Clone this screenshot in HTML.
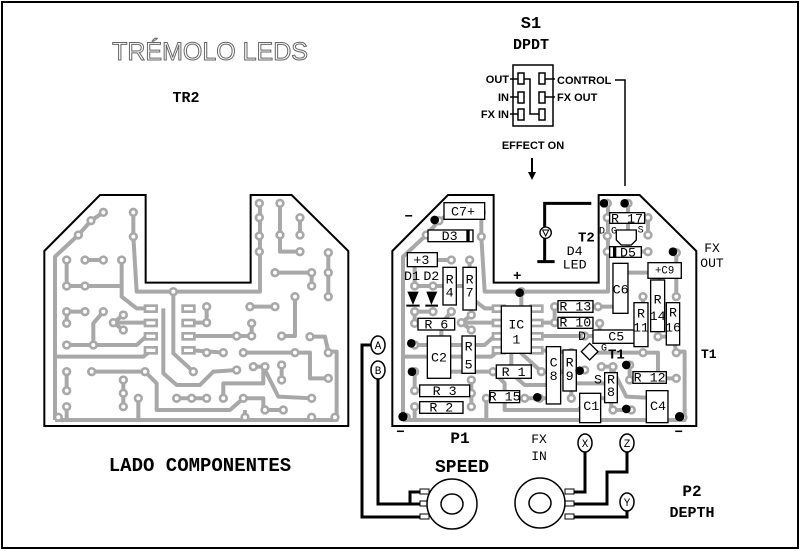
<!DOCTYPE html>
<html><head><meta charset="utf-8"><style>
html,body{margin:0;padding:0;background:#fff;width:800px;height:551px;overflow:hidden}
svg{display:block}
.m{font-family:"Liberation Mono",monospace;font-weight:bold}
.s{font-family:"Liberation Sans",sans-serif;font-weight:bold}
</style></head><body>
<svg width="800" height="551" viewBox="0 0 800 551" xmlns="http://www.w3.org/2000/svg">
<rect x="2" y="2" width="796" height="546" fill="#fff" stroke="#000" stroke-width="2"/>
<text x="210" y="60" text-anchor="middle" font-family="Liberation Sans,sans-serif" font-size="25" fill="#fff" stroke="#666" stroke-width="1">TRÉMOLO LEDS</text>
<text x="186" y="102" text-anchor="middle" class="m" font-size="15">TR2</text>
<text x="200" y="471" text-anchor="middle" class="m" font-size="19">LADO COMPONENTES</text>

<defs>
<g id="tr" fill="none" stroke="#a8a8a8" stroke-width="12" stroke-linejoin="round">
<path d="M75,720 L75,230 L145,165 L183,122 L220,97"/>
<path d="M75,720 L920,720 L920,515 L895,515 L885,470 L840,470"/>
<path d="M310,97 L310,170 L320,335 L690,335 L690,70"/>
<path d="M750,70 L750,215 L810,215 M810,113 L810,165"/>
<path d="M735,278 L845,278 L845,318 M895,218 L895,350"/>
<path d="M110,240 L110,318 L275,318 L275,240 M165,240 L220,240"/>
<path d="M275,318 L275,350 L320,385 L365,385"/>
<path d="M430,335 L430,520 L490,575"/>
<path d="M400,385 L400,580 L440,615 L510,615 L550,575 L620,570"/>
<path d="M475,468 L665,468 L665,430 M475,428 L530,428 L530,380 M475,510 L580,518"/>
<path d="M660,380 L735,380 M795,350 L795,468 L755,468"/>
<path d="M640,518 L840,518 L840,595 L895,595"/>
<path d="M110,395 L165,395 M110,395 L110,430 M220,395 L190,430 L190,495 M110,495 L320,495 L350,468 L365,468"/>
<path d="M250,428 L365,428 M280,405 L250,428 L280,450"/>
<path d="M75,530 L340,530 L365,510"/>
<path d="M110,575 L110,632 M185,575 L345,575 L380,610 L380,690 L600,690 L640,655 L700,655 L700,690 L760,690"/>
<path d="M280,600 L280,680 M325,655 L325,720 M440,655 L530,655"/>
<path d="M580,655 L580,610 L700,610 L700,560 M670,560 L700,560 L745,650 L845,655"/>
<path d="M755,555 L755,600 M110,680 L110,720 M645,690 L645,710"/>
</g>
<g id="pd" fill="#fff" stroke="#a8a8a8" stroke-width="8">
<circle cx="220" cy="97" r="10"/><circle cx="183" cy="122" r="10"/><circle cx="145" cy="165" r="10"/>
<circle cx="310" cy="97" r="10"/><circle cx="310" cy="170" r="10"/><circle cx="430" cy="335" r="10"/>
<circle cx="688" cy="70" r="10"/><circle cx="688" cy="113" r="10"/><circle cx="688" cy="168" r="10"/><circle cx="688" cy="215" r="10"/>
<circle cx="750" cy="70" r="10"/><circle cx="750" cy="165" r="10"/><circle cx="810" cy="113" r="10"/><circle cx="810" cy="165" r="10"/><circle cx="810" cy="215" r="10"/>
<circle cx="735" cy="278" r="10"/><circle cx="845" cy="278" r="10"/><circle cx="845" cy="318" r="10"/>
<circle cx="895" cy="218" r="10"/><circle cx="895" cy="278" r="10"/><circle cx="895" cy="350" r="10"/>
<circle cx="110" cy="240" r="10"/><circle cx="165" cy="240" r="10"/><circle cx="220" cy="240" r="10"/><circle cx="275" cy="240" r="10"/>
<circle cx="110" cy="318" r="10"/><circle cx="165" cy="318" r="10"/>
<circle cx="110" cy="395" r="10"/><circle cx="165" cy="395" r="10"/><circle cx="110" cy="430" r="10"/><circle cx="220" cy="395" r="10"/>
<circle cx="280" cy="405" r="10"/><circle cx="280" cy="450" r="10"/><circle cx="250" cy="428" r="10"/>
<circle cx="110" cy="495" r="10"/><circle cx="190" cy="495" r="10"/>
<circle cx="530" cy="380" r="10"/><circle cx="530" cy="428" r="10"/><circle cx="660" cy="380" r="10"/><circle cx="735" cy="380" r="10"/>
<circle cx="795" cy="350" r="10"/><circle cx="755" cy="468" r="10"/><circle cx="840" cy="470" r="10"/>
<circle cx="620" cy="468" r="10"/><circle cx="665" cy="468" r="10"/><circle cx="665" cy="430" r="10"/>
<circle cx="530" cy="518" r="10"/><circle cx="580" cy="518" r="10"/><circle cx="640" cy="518" r="10"/><circle cx="795" cy="518" r="10"/><circle cx="895" cy="518" r="10"/><circle cx="895" cy="595" r="10"/>
<circle cx="490" cy="575" r="10"/><circle cx="620" cy="570" r="10"/><circle cx="670" cy="560" r="10"/><circle cx="705" cy="560" r="10"/>
<circle cx="755" cy="555" r="10"/><circle cx="755" cy="600" r="10"/>
<circle cx="110" cy="575" r="10"/><circle cx="110" cy="632" r="10"/><circle cx="185" cy="575" r="10"/><circle cx="345" cy="575" r="10"/>
<circle cx="280" cy="600" r="10"/><circle cx="280" cy="640" r="10"/><circle cx="280" cy="680" r="10"/><circle cx="325" cy="655" r="10"/>
<circle cx="440" cy="655" r="10"/><circle cx="485" cy="655" r="10"/><circle cx="530" cy="655" r="10"/><circle cx="580" cy="655" r="10"/>
<circle cx="640" cy="655" r="10"/><circle cx="845" cy="655" r="10"/><circle cx="705" cy="690" r="10"/><circle cx="760" cy="690" r="10"/>
<circle cx="110" cy="680" r="10"/><circle cx="85" cy="712" r="10"/><circle cx="645" cy="712" r="10"/><circle cx="845" cy="712" r="10"/><circle cx="915" cy="712" r="10"/>
<rect x="345" y="377" width="35" height="18"/><rect x="345" y="420" width="35" height="18"/><rect x="345" y="460" width="35" height="18"/><rect x="345" y="502" width="35" height="18"/>
<rect x="458" y="377" width="35" height="18"/><rect x="458" y="420" width="35" height="18"/><rect x="458" y="460" width="35" height="18"/><rect x="458" y="502" width="35" height="18"/>
</g>
<path id="ol" d="M43,213 L210,45 L347,45 L347,308 L662,308 L662,45 L785,45 L955,213 L955,738 L43,738 Z" fill="none" stroke="#000" stroke-width="6"/>
</defs>

<g transform="translate(30,180) scale(0.3333)">
<use href="#tr"/><use href="#pd"/><use href="#ol"/>
</g>

<g transform="translate(378,180) scale(0.3333)">
<use href="#tr"/><use href="#pd"/><use href="#ol"/>
<g fill="#fff" stroke="#000" stroke-width="4">
<rect x="198" y="68" width="122" height="50"/>
<rect x="150" y="150" width="135" height="35"/>
<rect x="88" y="218" width="90" height="42"/>
<rect x="195" y="262" width="40" height="113"/>
<rect x="255" y="262" width="40" height="128"/>
<rect x="120" y="415" width="110" height="35"/>
<rect x="148" y="468" width="70" height="127"/>
<rect x="252" y="468" width="40" height="112"/>
<rect x="370" y="378" width="90" height="142"/>
<rect x="125" y="615" width="150" height="35"/>
<rect x="125" y="665" width="130" height="35"/>
<rect x="355" y="555" width="105" height="40"/>
<rect x="335" y="632" width="90" height="36"/>
<rect x="505" y="500" width="43" height="172"/>
<rect x="555" y="510" width="40" height="123"/>
<rect x="540" y="362" width="105" height="35"/>
<rect x="540" y="412" width="105" height="33"/>
<rect x="645" y="450" width="125" height="40"/>
<rect x="705" y="250" width="45" height="150"/>
<rect x="768" y="368" width="42" height="132"/>
<rect x="818" y="300" width="42" height="155"/>
<rect x="865" y="368" width="40" height="127"/>
<rect x="810" y="248" width="100" height="47"/>
<rect x="695" y="98" width="105" height="32"/>
<rect x="695" y="200" width="95" height="32"/>
<rect x="765" y="575" width="100" height="35"/>
<rect x="680" y="578" width="38" height="90"/>
<rect x="605" y="640" width="63" height="88"/>
<rect x="805" y="632" width="65" height="96"/>
<path d="M715,150 L775,150 L775,180 L760,195 L730,195 L715,180 Z"/>
<path d="M635,490 L660,515 L635,540 L610,515 Z"/>
</g>
<rect x="265" y="150" width="10" height="35" fill="#000"/>
<rect x="705" y="200" width="10" height="32" fill="#000"/>
<path d="M88,335 L122,335 L105,375 Z M145,335 L178,335 L160,375 Z" fill="#000"/>
<path d="M85,377 L125,377 M142,377 L180,377" stroke="#000" stroke-width="6"/>
<g fill="#000">
<circle cx="170" cy="120" r="13"/><circle cx="425" cy="338" r="13"/><circle cx="678" cy="70" r="13"/><circle cx="740" cy="70" r="13"/>
<circle cx="885" cy="215" r="13"/><circle cx="100" cy="490" r="13"/><circle cx="102" cy="575" r="13"/><circle cx="75" cy="710" r="14"/>
<circle cx="905" cy="710" r="14"/><circle cx="478" cy="652" r="13"/><circle cx="605" cy="572" r="13"/><circle cx="745" cy="555" r="13"/><circle cx="745" cy="687" r="13"/>
</g>
<path d="M640,70 L500,70 L500,245 M478,245 L530,245" fill="none" stroke="#000" stroke-width="9"/>
<circle cx="503" cy="158" r="17" fill="#fff" stroke="#000" stroke-width="4"/>
<path d="M494,150 L512,150 L503,168 Z" fill="none" stroke="#000" stroke-width="3"/>
<g font-family="Liberation Mono,monospace" font-size="40" text-anchor="middle" fill="#000">
<text x="255" y="106">C7+</text><text x="215" y="180">D3</text><text x="130" y="252">+3</text>
<text x="215" y="310">R</text><text x="215" y="350">4</text><text x="275" y="310">R</text><text x="275" y="350">7</text>
<text x="175" y="445">R 6</text><text x="183" y="545">C2</text><text x="272" y="512">R</text><text x="272" y="565">5</text>
<text x="415" y="445">IC</text><text x="415" y="490">1</text><text x="200" y="645">R 3</text><text x="190" y="695">R 2</text>
<text x="407" y="588">R 1</text><text x="380" y="662">R 15</text><text x="527" y="560">C</text><text x="527" y="600">8</text>
<text x="575" y="560">R</text><text x="575" y="600">9</text><text x="592" y="392">R 13</text><text x="592" y="440">R 10</text>
<text x="715" y="482">C5</text><text x="728" y="340">C6</text><text x="789" y="412">R</text><text x="789" y="455">11</text>
<text x="839" y="370">R</text><text x="839" y="420">14</text><text x="885" y="410">R</text><text x="885" y="455">16</text>
<text x="860" y="280" font-size="32">+C9</text><text x="747" y="127">R 17</text><text x="750" y="230">D5</text>
<text x="815" y="605">R 12</text><text x="699" y="610">R</text><text x="699" y="648">8</text>
<text x="640" y="690">C1</text><text x="840" y="690">C4</text>
<text x="102" y="300">D1</text><text x="160" y="300">D2</text><text x="690" y="160" font-size="30">D G</text><text x="788" y="158" font-size="30">S</text>
<text x="612" y="480">D</text><text x="678" y="512" font-size="30">G</text><text x="660" y="610">S</text>
<text x="590" y="225">D4</text><text x="590" y="265">LED</text>
</g>
<g font-family="Liberation Mono,monospace" font-weight="bold" font-size="42" fill="#000">
<text x="600" y="185">T2</text><text x="690" y="535">T1</text>
<text x="405" y="300">+</text><text x="80" y="122">−</text><text x="55" y="768">−</text><text x="890" y="768">−</text>
</g>
</g>

<text x="712" y="252" text-anchor="middle" font-family="Liberation Mono,monospace" font-size="13">FX</text>
<text x="712" y="267" text-anchor="middle" font-family="Liberation Mono,monospace" font-size="13">OUT</text>
<text x="701" y="358" class="m" font-size="13">T1</text>

<text x="531" y="28" text-anchor="middle" class="m" font-size="17">S1</text>
<text x="531" y="49" text-anchor="middle" class="m" font-size="15">DPDT</text>
<rect x="513" y="65" width="40" height="61" fill="#fff" stroke="#000" stroke-width="1.5"/>
<g fill="#fff" stroke="#000" stroke-width="1.5">
<rect x="518" y="73" width="6" height="11"/><rect x="518" y="92" width="6" height="11"/><rect x="518" y="109" width="6" height="11"/>
<rect x="539" y="73" width="6" height="11"/><rect x="539" y="92" width="6" height="11"/><rect x="539" y="109" width="6" height="11"/>
</g>
<path d="M510,79 L518,79 M510,97 L518,97 M510,114 L518,114 M545,79 L555,79 M545,97 L555,97 M524,79 L530,79 L530,114 L539,114 M615,80 L625,80 L625,186" fill="none" stroke="#000" stroke-width="1.5"/>
<g class="s" font-size="11" fill="#000">
<text x="509" y="83" text-anchor="end">OUT</text><text x="509" y="101" text-anchor="end">IN</text><text x="509" y="118" text-anchor="end">FX IN</text>
<text x="557" y="84">CONTROL</text><text x="557" y="101">FX OUT</text>
<text x="533" y="149" text-anchor="middle">EFFECT ON</text>
</g>
<path d="M532,158 L532,174" stroke="#000" stroke-width="2"/><path d="M528,172 L536,172 L532,180 Z" fill="#000"/>

<g fill="#fff" stroke="#000" stroke-width="1.5">
<ellipse cx="378" cy="345" rx="7" ry="9"/><ellipse cx="378" cy="370" rx="7" ry="9"/>
<ellipse cx="585" cy="443" rx="7" ry="9"/><ellipse cx="627" cy="443" rx="7" ry="9"/><ellipse cx="627" cy="502" rx="7" ry="9"/>
</g>
<g font-family="Liberation Mono,monospace" font-size="11" text-anchor="middle">
<text x="378" y="349">A</text><text x="378" y="374">B</text><text x="585" y="447">X</text><text x="627" y="447">Z</text><text x="627" y="506">Y</text>
</g>
<path d="M371,345 L362,345 L362,517 L420,517 M378,379 L378,504 L420,504 M410,504 L410,492 L420,492 M585,452 L585,492 L566,492 M627,452 L627,472 L607,472 L607,504 L566,504 M627,511 L627,517 L566,517" fill="none" stroke="#000" stroke-width="3"/>
<g fill="#fff" stroke="#000" stroke-width="1">
<rect x="420" y="489" width="9" height="5"/><rect x="420" y="501" width="9" height="5"/><rect x="420" y="514" width="9" height="5"/>
<rect x="565" y="489" width="9" height="5"/><rect x="565" y="501" width="9" height="5"/><rect x="565" y="514" width="9" height="5"/>
</g>
<circle cx="452" cy="504" r="25" fill="#fff" stroke="#000" stroke-width="1.5"/>
<ellipse cx="452" cy="504" rx="11" ry="10" fill="#fff" stroke="#000" stroke-width="1.5"/>
<circle cx="540" cy="503" r="25" fill="#fff" stroke="#000" stroke-width="1.5"/>
<ellipse cx="540" cy="503" rx="11" ry="10" fill="#fff" stroke="#000" stroke-width="1.5"/>
<text x="460" y="443" text-anchor="middle" class="m" font-size="16">P1</text>
<text x="462" y="472" text-anchor="middle" class="m" font-size="18">SPEED</text>
<text x="539" y="443" text-anchor="middle" font-family="Liberation Mono,monospace" font-size="13">FX</text>
<text x="539" y="460" text-anchor="middle" font-family="Liberation Mono,monospace" font-size="13">IN</text>
<text x="692" y="496" text-anchor="middle" class="m" font-size="16">P2</text>
<text x="692" y="517" text-anchor="middle" class="m" font-size="15">DEPTH</text>
</svg>
</body></html>
